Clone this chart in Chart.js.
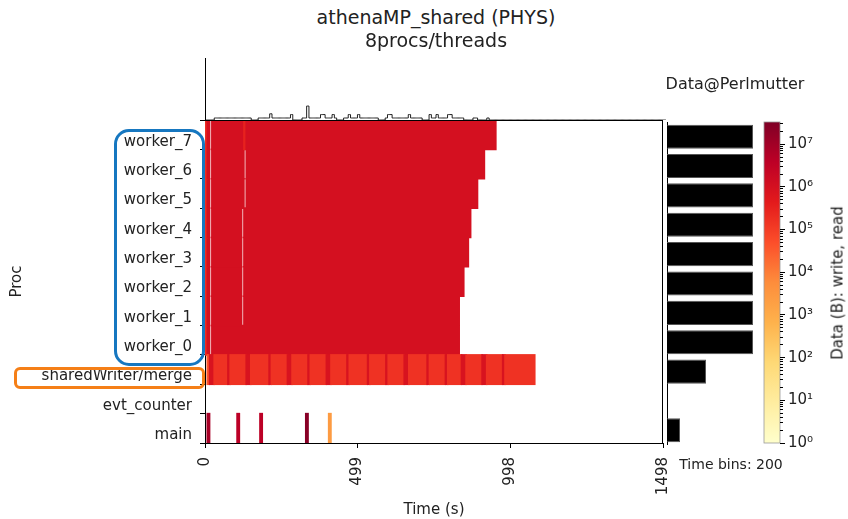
<!DOCTYPE html>
<html lang="en">
<head>
<meta charset="UTF-8">
<title>athenaMP_shared (PHYS)</title>
<script src="https://cdn.jsdelivr.net/npm/chart.js"></script>
<style>
  body { margin: 0; background: #fff; font-family: 'DejaVu Sans', sans-serif; color: #222; }
  #wrap { position: relative; width: 848px; height: 519px; overflow: hidden; background: #fff; }
  canvas, .txt, .box { position: absolute; }
  .txt { white-space: nowrap; line-height: 1; transform: translate(-50%, -50%); }
  .box { box-sizing: border-box; }
</style>
</head>
<body>
<div id="wrap">
  <canvas id="heat" width="690" height="419" style="left:0;top:100px"></canvas>
  <canvas id="top" width="480" height="71" style="left:195px;top:50px"></canvas>
  <canvas id="side" width="100" height="335" style="left:660px;top:110px"></canvas>
  <canvas id="cbar" width="93" height="350" style="left:755px;top:110px"></canvas>

  <div class="txt" style="left:436px;top:17px;font-size:19px">athenaMP_shared (PHYS)</div>
  <div class="txt" style="left:436px;top:40px;font-size:19px">8procs/threads</div>
  <div class="txt" style="left:735px;top:84px;font-size:16px">Data@Perlmutter</div>
  <div class="txt" style="left:731px;top:464px;font-size:14px">Time bins: 200</div>
  <div class="txt" style="left:838px;top:283px;font-size:15px;transform:translate(-50%,-50%) rotate(-90deg)">Data (B): write, read</div>

  <div class="box" style="left:114px;top:129px;width:91px;height:237px;border:3px solid #1677c0;border-radius:15px"></div>
  <div class="box" style="left:14px;top:367px;width:191px;height:22px;border:3px solid #f57f17;border-radius:6px"></div>
</div>
<script>
  // rows, top to bottom
  const procs = ['worker_7', 'worker_6', 'worker_5', 'worker_4', 'worker_3', 'worker_2', 'worker_1', 'worker_0',
                 'sharedWriter/merge', 'evt_counter', 'main'];
  const T_MAX = 1498;
  const N_BINS = 200;
  const BIN = T_MAX / N_BINS;
  const xTicks = [0, 499, 998, 1498];
  const LOG_MAX = 7.52;            // colorbar top, log10(bytes)
  const cbDecades = [0, 1, 2, 3, 4, 5, 6, 7];
  const cbMinor = [2, 3, 4, 5, 6, 7, 8, 9];

  // workers, listed worker_0 .. worker_7 (log10 bytes per bin)
  const workerBins = [111, 111, 113, 115, 116, 119, 122, 127];
  const workerLevel = 6.0;
  const workerFirstLevel = 5.3;
  const workerGapBin = 2;
  const workerDipBin = [-1, 16, 16, 16, 16, 17, 17, 17];
  const workerDipLevel = [null, null, null, null, null, null, null, 5.5];

  // sharedWriter/merge
  const sharedFirstBin = 1;
  const sharedLastBin = 143;
  const sharedEdgeLevel = 4.6;
  const sharedLight = 5.2;
  const sharedDark = 5.9;
  const sharedDarkBins = [2, 3, 10, 18, 19, 28, 36, 37, 45, 53, 54, 62, 71, 79, 87, 88, 97, 105, 112, 113, 121, 122, 130];

  // main
  const mainBins = [1, 14, 24, 44, 54];
  const mainLevels = [6.9, 6.6, 6.6, 7.4, 3.4];

  // top histogram
  const topStart = [4, 23, 42, 60, 78, 97, 116, 122];
  const topEnd = [19, 37, 56, 74, 93, 111, 117, 122];
  const topBase = 1.3;
  const topPeakBins = [28, 37, 44, 50, 51, 55, 62, 66, 79, 80, 88, 97, 100, 105, 106];
  const topPeakVals = [4, 3.5, 9, 3.5, 3.5, 3.5, 3.5, 3.5, 3.5, 3.5, 3.5, 3.5, 3.5, 3.5, 3.5];

  // right panel totals, same order as procs
  const sideValues = [86, 86, 86, 86, 86, 86, 86, 86, 39, 0, 13];

  const YLORRD = ['#ffffcc', '#ffeda0', '#fed976', '#feb24c', '#fd8d3c', '#fc4e2a', '#e31a1c', '#bd0026', '#800026'];
  const SUP = ['⁰', '¹', '²', '³', '⁴', '⁵', '⁶', '⁷', '⁸', '⁹'];

  function hex(h) { return [1, 3, 5].map(i => parseInt(h.substr(i, 2), 16)); }
  function cmap(t) {
    t = Math.max(0, Math.min(1, t));
    const p = t * (YLORRD.length - 1);
    const i = Math.min(Math.floor(p), YLORRD.length - 2);
    const f = p - i;
    const a = hex(YLORRD[i]), b = hex(YLORRD[i + 1]);
    const c = a.map((v, k) => Math.round(v + (b[k] - v) * f));
    return `rgb(${c[0]},${c[1]},${c[2]})`;
  }

  function pushRuns(segs, row, levels) {
    let i = 0;
    while (i < N_BINS) {
      if (levels[i] == null) { i++; continue; }
      let j = i;
      while (j + 1 < N_BINS && levels[j + 1] === levels[i]) j++;
      segs.push({ y: row, x: [i * BIN, (j + 1) * BIN], v: levels[i] });
      i = j + 1;
    }
  }

  function buildHeat() {
    const segs = [];
    workerBins.forEach((n, k) => {
      const lv = new Array(N_BINS).fill(null);
      for (let b = 0; b < n; b++) lv[b] = workerLevel;
      lv[0] = workerFirstLevel;
      lv[workerGapBin] = null;
      if (workerDipBin[k] >= 0) lv[workerDipBin[k]] = workerDipLevel[k];
      pushRuns(segs, 'worker_' + k, lv);
    });
    const sw = new Array(N_BINS).fill(null);
    for (let b = sharedFirstBin; b <= sharedLastBin; b++) sw[b] = sharedLight;
    sharedDarkBins.forEach(b => { sw[b] = sharedDark; });
    sw[sharedFirstBin] = sharedEdgeLevel;
    pushRuns(segs, 'sharedWriter/merge', sw);
    const mn = new Array(N_BINS).fill(null);
    mainBins.forEach((b, i) => { mn[b] = mainLevels[i]; });
    pushRuns(segs, 'main', mn);
    return segs;
  }

  const frame = {
    id: 'frame',
    afterDraw(chart) {
      const { ctx, chartArea: a } = chart;
      ctx.save();
      ctx.strokeStyle = '#000';
      ctx.lineWidth = 1;
      ctx.beginPath();
      ctx.moveTo(a.left, a.top + 0.5); ctx.lineTo(a.right, a.top + 0.5);
      ctx.moveTo(a.right - 0.5, a.top); ctx.lineTo(a.right - 0.5, a.bottom);
      ctx.stroke();
      ctx.restore();
    }
  };

  const font15 = { family: "'DejaVu Sans', sans-serif", size: 15 };
  Chart.defaults.font.family = "'DejaVu Sans', sans-serif";

  new Chart(document.getElementById('heat'), {
    type: 'bar',
    data: {
      labels: procs,
      datasets: [{
        data: buildHeat(),
        backgroundColor: c => cmap(c.raw.v / LOG_MAX),
        borderWidth: 0,
        inflateAmount: 0.8,
        barPercentage: 1,
        categoryPercentage: 1
      }]
    },
    options: {
      indexAxis: 'y',
      responsive: false,
      animation: false,
      layout: { padding: { left: 0, top: 20, right: 23, bottom: 0 } },
      plugins: { legend: { display: false }, tooltip: { enabled: false } },
      scales: {
        x: {
          type: 'linear', min: 0, max: T_MAX,
          afterBuildTicks: s => { s.ticks = xTicks.map(v => ({ value: v })); },
          afterFit: s => { s.height = 76; },
          ticks: { minRotation: 90, maxRotation: 90, color: '#222', font: font15, padding: 9, autoSkip: false,
                   callback: v => String(v) },
          grid: { drawOnChartArea: false, tickLength: 5, color: '#000' },
          border: { color: '#000' },
          title: { display: true, text: 'Time (s)', color: '#222', font: font15, padding: { top: 0, bottom: 0 } }
        },
        y: {
          afterFit: s => { s.width = 205; },
          ticks: { color: '#222', font: font15, labelOffset: 7, padding: 8, autoSkip: false },
          grid: { offset: true, drawOnChartArea: false, tickLength: 5, color: '#000' },
          border: { color: '#000' },
          title: { display: true, text: 'Proc', color: '#222', font: font15, padding: { top: 8, bottom: 0 } }
        }
      }
    },
    plugins: [frame]
  });

  const topCounts = new Array(N_BINS).fill(0);
  topStart.forEach((s, i) => { for (let b = s; b <= topEnd[i]; b++) topCounts[b] = topBase; });
  topPeakBins.forEach((b, i) => { topCounts[b] = topPeakVals[i]; });

  new Chart(document.getElementById('top'), {
    type: 'line',
    data: {
      labels: topCounts.map((_, i) => String(i)),
      datasets: [{
        data: topCounts,
        stepped: 'middle',
        borderColor: '#222',
        borderWidth: 1,
        pointRadius: 0,
        fill: false
      }]
    },
    options: {
      responsive: false,
      animation: false,
      layout: { padding: { left: 0, top: 8, right: 8, bottom: 1 } },
      plugins: { legend: { display: false }, tooltip: { enabled: false } },
      scales: {
        x: { display: false, offset: true },
        y: {
          min: 0, max: 40,
          afterFit: s => { s.width = 10; },
          ticks: { display: false },
          grid: { display: false },
          border: { display: true, color: '#000' }
        }
      }
    }
  });

  new Chart(document.getElementById('side'), {
    type: 'bar',
    data: {
      labels: procs,
      datasets: [{ data: sideValues, backgroundColor: '#000', borderColor: '#555', borderWidth: 1, barPercentage: 0.82, categoryPercentage: 1 }]
    },
    options: {
      indexAxis: 'y',
      responsive: false,
      animation: false,
      layout: { padding: { left: 0, top: 12, right: 3, bottom: 0 } },
      plugins: { legend: { display: false }, tooltip: { enabled: false } },
      scales: {
        x: { min: 0, max: 90, display: false },
        y: {
          afterFit: s => { s.width = 7; },
          ticks: { display: false },
          grid: { display: false },
          border: { display: true, color: '#000' }
        }
      }
    }
  });

  const gradient = {
    id: 'gradient',
    beforeDraw(chart) {
      const { ctx, chartArea: a } = chart;
      const g = ctx.createLinearGradient(0, a.bottom, 0, a.top);
      YLORRD.forEach((c, i) => g.addColorStop(i / (YLORRD.length - 1), c));
      ctx.save();
      ctx.fillStyle = g;
      ctx.fillRect(a.left, a.top, a.right - a.left, a.bottom - a.top);
      ctx.strokeStyle = '#999';
      ctx.lineWidth = 0.8;
      ctx.strokeRect(a.left, a.top, a.right - a.left, a.bottom - a.top);
      ctx.restore();
    }
  };

  const cbMax = Math.pow(10, LOG_MAX);
  new Chart(document.getElementById('cbar'), {
    type: 'bar',
    data: { labels: [''], datasets: [] },
    options: {
      responsive: false,
      animation: false,
      layout: { padding: { left: 9, top: 10, right: 0, bottom: 17 } },
      plugins: { legend: { display: false }, tooltip: { enabled: false } },
      scales: {
        x: { display: false },
        y: {
          type: 'logarithmic', position: 'right', weight: 1, min: 1, max: cbMax,
          afterBuildTicks: s => { s.ticks = cbDecades.map(d => ({ value: Math.pow(10, d), major: true })); },
          afterFit: s => { s.width = 68; },
          ticks: {
            color: '#222', font: font15, padding: 3, autoSkip: false,
            callback: v => '10' + SUP[Math.round(Math.log10(v))]
          },
          grid: { drawOnChartArea: false, tickLength: 5, color: '#000' },
          border: { display: false }
        },
        yMinor: {
          type: 'logarithmic', position: 'right', weight: 0, min: 1, max: cbMax,
          afterBuildTicks: s => {
            const t = [];
            cbDecades.forEach(d => cbMinor.forEach(m => { const v = m * Math.pow(10, d); if (v < cbMax) t.push({ value: v }); }));
            s.ticks = t;
          },
          afterFit: s => { s.width = 0; },
          ticks: { display: false },
          grid: { drawOnChartArea: false, tickLength: 3, color: '#000' },
          border: { display: false }
        }
      }
    },
    plugins: [gradient]
  });
</script>
</body>
</html>
